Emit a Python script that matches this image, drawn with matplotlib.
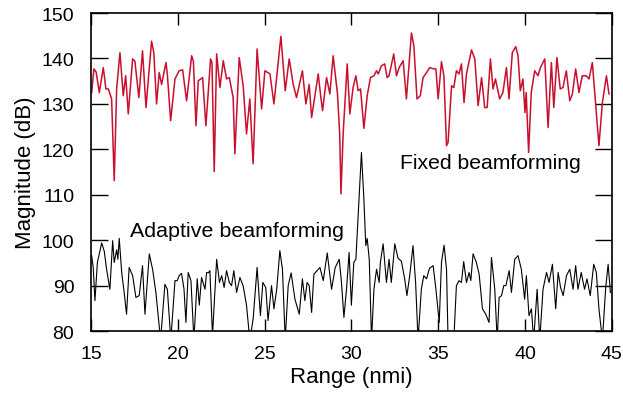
import numpy as np
import matplotlib
matplotlib.use("Agg")
import matplotlib.pyplot as plt

plt.rcParams['font.family'] = ['Liberation Sans', 'DejaVu Sans']

# fixed beamforming trace (range in nmi, magnitude in dB)
fixed_range = [15.04, 15.17, 15.3, 15.48, 15.71, 15.86, 16.0, 16.19, 16.34, 16.48, 16.67, 16.86, 17.0, 17.15,
               17.4, 17.53, 17.76, 17.97, 18.17, 18.49, 18.62, 18.78, 18.93, 19.07, 19.32, 19.4, 19.59, 19.84,
               20.08, 20.28, 20.51, 20.8, 20.9, 21.05, 21.18, 21.33, 21.43, 21.62, 21.89, 21.97, 22.1, 22.24,
               22.43, 22.62, 22.81, 22.97, 23.19, 23.29, 23.54, 23.77, 23.96, 24.15, 24.34, 24.57, 24.83, 25.02,
               25.31, 25.54, 25.94, 26.19, 26.42, 26.65, 26.84, 27.18, 27.38, 27.57, 27.71, 28.09, 28.23, 28.34,
               28.57, 28.76, 28.95, 29.2, 29.33, 29.4, 29.53, 29.76, 29.91, 30.1, 30.26, 30.39, 30.53, 30.72,
               30.91, 31.1, 31.3, 31.45, 31.55, 31.73, 31.92, 32.06, 32.17, 32.44, 32.6, 32.75, 32.98, 33.17,
               33.46, 33.6, 33.78, 33.97, 34.13, 34.33, 34.52, 34.75, 34.87, 35.0, 35.19, 35.33, 35.48, 35.57,
               35.77, 35.9, 36.05, 36.2, 36.34, 36.49, 36.63, 36.92, 37.11, 37.3, 37.5, 37.68, 37.82, 38.01,
               38.16, 38.3, 38.54, 38.73, 38.93, 39.08, 39.27, 39.47, 39.6, 39.73, 39.88, 40.0, 40.07, 40.21,
               40.36, 40.56, 40.75, 40.89, 41.14, 41.33, 41.52, 41.66, 41.84, 42.03, 42.19, 42.38, 42.58, 42.73,
               42.92, 43.11, 43.3, 43.53, 43.69, 43.88, 44.07, 44.26, 44.46, 44.69, 44.84]
fixed_db = [132.5, 137.7, 137.0, 132.5, 138.0, 133.3, 133.3, 131.1, 113.1, 133.3, 141.3, 131.8, 136.2, 127.8,
            139.9, 139.4, 131.4, 141.7, 129.2, 143.8, 141.3, 130.0, 136.9, 134.3, 139.1, 136.5, 126.3, 135.5,
            137.3, 137.5, 130.7, 140.6, 139.4, 125.2, 135.1, 135.5, 135.8, 125.2, 139.9, 139.1, 115.1, 141.0,
            133.6, 139.5, 135.5, 135.8, 131.4, 119.0, 140.2, 133.9, 123.4, 131.1, 116.8, 142.1, 128.9, 137.3,
            136.6, 130.0, 144.9, 132.9, 139.9, 134.3, 131.4, 137.3, 130.0, 134.3, 127.0, 136.6, 131.8, 128.5,
            135.8, 132.2, 140.6, 132.2, 123.2, 110.2, 123.7, 138.8, 127.8, 133.6, 136.2, 132.9, 133.3, 124.6,
            131.8, 135.8, 136.2, 137.3, 136.6, 138.4, 138.8, 135.8, 136.2, 141.0, 136.2, 138.0, 139.5, 131.1,
            145.6, 142.8, 131.1, 131.8, 135.8, 136.9, 138.0, 137.7, 137.7, 131.1, 139.3, 136.2, 120.8, 121.5,
            134.0, 133.6, 137.3, 136.6, 138.8, 130.3, 136.6, 141.9, 139.9, 129.6, 135.8, 129.2, 129.2, 139.9,
            133.3, 135.5, 131.1, 132.5, 138.0, 131.1, 141.3, 142.6, 140.6, 132.9, 135.5, 128.1, 132.5, 119.3,
            132.5, 137.3, 136.2, 138.0, 139.9, 124.8, 139.1, 129.2, 140.2, 133.3, 133.6, 137.3, 130.7, 132.2,
            137.7, 132.5, 136.2, 136.2, 135.5, 139.1, 130.0, 120.8, 130.3, 136.2, 132.2]

# adaptive beamforming trace
adapt_range = [15.04, 15.13, 15.23, 15.37, 15.62, 15.77, 15.9, 16.09, 16.25, 16.34, 16.48, 16.55, 16.63, 16.77,
               16.92, 17.05, 17.2, 17.4, 17.59, 17.78, 17.97, 18.11, 18.36, 18.55, 18.74, 19.01, 19.26, 19.4,
               19.6, 19.84, 19.97, 20.08, 20.22, 20.36, 20.47, 20.6, 20.76, 20.93, 21.12, 21.24, 21.37, 21.57,
               21.66, 21.76, 21.85, 22.0, 22.24, 22.4, 22.53, 22.67, 22.81, 22.97, 23.1, 23.23, 23.39, 23.58,
               23.77, 23.96, 24.15, 24.34, 24.57, 24.76, 24.9, 25.07, 25.2, 25.4, 25.54, 25.7, 25.88, 26.03,
               26.19, 26.36, 26.53, 26.75, 27.0, 27.18, 27.32, 27.45, 27.57, 27.71, 27.84, 28.03, 28.19, 28.38,
               28.61, 28.86, 29.07, 29.3, 29.43, 29.57, 29.72, 29.87, 30.0, 30.14, 30.26, 30.39, 30.58, 30.72,
               30.83, 30.91, 31.03, 31.16, 31.3, 31.45, 31.6, 31.67, 31.83, 32.02, 32.17, 32.3, 32.5, 32.69,
               32.88, 33.07, 33.2, 33.36, 33.55, 33.7, 33.84, 34.03, 34.17, 34.33, 34.5, 34.71, 34.87, 35.06,
               35.19, 35.34, 35.48, 35.57, 35.9, 36.05, 36.2, 36.34, 36.47, 36.63, 36.78, 36.88, 37.01, 37.2,
               37.36, 37.55, 37.74, 37.93, 38.07, 38.26, 38.4, 38.51, 38.65, 38.78, 38.9, 39.09, 39.22, 39.41,
               39.6, 39.79, 39.98, 40.08, 40.23, 40.37, 40.5, 40.7, 40.85, 41.04, 41.24, 41.39, 41.58, 41.77,
               41.91, 42.05, 42.2, 42.39, 42.58, 42.77, 42.92, 43.05, 43.24, 43.43, 43.57, 43.76, 43.96, 44.11,
               44.26, 44.46, 44.65, 44.79, 44.92]
adapt_db = [96.6, 94.0, 86.7, 95.1, 99.4, 97.5, 93.6, 89.2, 99.9, 95.1, 97.9, 95.8, 100.4, 92.9,
            88.3, 83.7, 94.0, 92.2, 87.4, 87.8, 94.4, 83.7, 97.0, 93.6, 88.5, 78.0, 90.3, 89.2,
            78.0, 91.1, 91.1, 92.2, 92.7, 89.2, 81.9, 92.9, 91.1, 78.0, 91.5, 85.7, 91.8, 89.2,
            92.9, 92.8, 93.3, 79.0, 95.8, 90.7, 92.2, 89.6, 93.3, 90.7, 90.0, 93.3, 88.5, 91.8,
            89.9, 85.7, 78.0, 82.6, 94.0, 83.4, 90.7, 89.6, 82.3, 90.0, 84.9, 89.2, 97.7, 93.6,
            78.0, 90.0, 92.8, 87.0, 83.7, 91.5, 86.7, 90.7, 90.0, 84.1, 92.5, 93.3, 94.0, 91.1,
            97.2, 89.2, 94.0, 95.8, 90.7, 83.0, 89.2, 97.3, 85.7, 95.1, 95.8, 105.4, 119.3, 109.1,
            98.8, 100.4, 95.8, 78.0, 89.2, 93.6, 90.7, 95.1, 99.2, 90.7, 95.8, 90.7, 99.2, 96.0,
            95.4, 91.5, 87.8, 92.2, 98.8, 90.7, 78.0, 89.2, 92.2, 91.5, 93.8, 94.4, 89.2, 81.9,
            95.1, 98.9, 93.6, 78.0, 78.0, 90.0, 91.1, 90.7, 95.3, 90.7, 92.9, 91.1, 97.0, 95.1,
            92.5, 84.9, 83.7, 81.9, 96.2, 89.2, 78.0, 87.4, 87.8, 90.0, 90.0, 93.3, 88.5, 95.8,
            96.6, 93.6, 87.0, 92.2, 83.4, 84.9, 78.0, 89.2, 78.0, 89.2, 92.9, 90.7, 94.7, 84.9,
            92.9, 89.6, 87.8, 92.2, 93.6, 89.2, 94.4, 89.2, 92.9, 89.2, 91.5, 87.8, 94.7, 92.9,
            84.9, 78.0, 89.6, 94.7, 88.5]

x_ticks = [15, 20, 25, 30, 35, 40, 45]
y_ticks = [80, 90, 100, 110, 120, 130, 140, 150]

fig = plt.figure(figsize=(6.23, 4.02), dpi=100)
ax = fig.add_axes([0.146, 0.174, 0.836, 0.791])

ax.plot(fixed_range, fixed_db, color='#c8102e', lw=1.1)
ax.plot(adapt_range, adapt_db, color='black', lw=0.8)

ax.set_xlim(15, 45)
ax.set_ylim(80, 150)
ax.set_xticks(x_ticks)
ax.set_yticks(y_ticks)
ax.tick_params(axis='x', direction='in', length=8.5, width=1, top=True, pad=10, labelsize=14)
ax.tick_params(axis='y', direction='in', length=12, width=1, right=True, pad=12, labelsize=14)
for s in ax.spines.values():
    s.set_linewidth(1.2)

ax.set_xlabel('Range (nmi)', fontsize=16, labelpad=3)
ax.set_ylabel('Magnitude (dB)', fontsize=16, labelpad=4)

ax.text(32.79, 117.2, 'Fixed beamforming', fontsize=15.2, va='center', ha='left')
ax.text(17.25, 102.2, 'Adaptive beamforming', fontsize=15.4, va='center', ha='left')

fig.savefig('out.png', dpi=100)
